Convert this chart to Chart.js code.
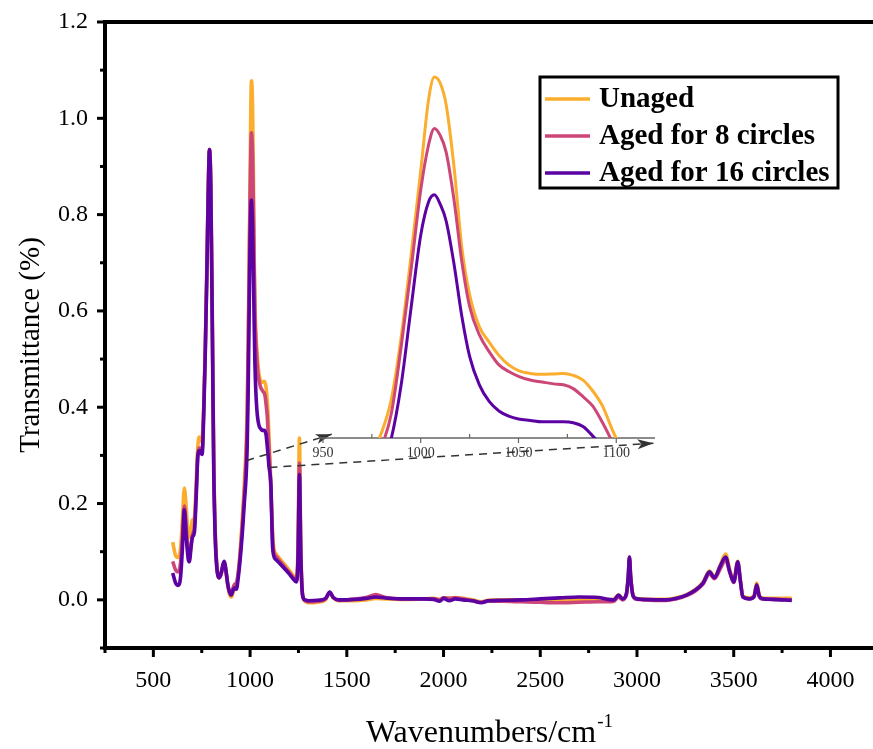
<!DOCTYPE html>
<html>
<head>
<meta charset="utf-8">
<script src="https://cdn.jsdelivr.net/npm/chart.js@4.4.1/dist/chart.umd.min.js"></script>
<style>
  body { margin: 0; background: #fff; }
  #wrap { position: relative; width: 873px; height: 749px; }
  #main { position: absolute; left: 0; top: 0; }
  #inset { position: absolute; left: 290px; top: 40px; }
</style>
</head>
<body>
<div id="wrap">
  <canvas id="main" width="873" height="749"></canvas>
  <canvas id="inset" width="400" height="430"></canvas>
</div>
<script>
// FTIR spectra (wavenumber, cm-1)
const wavenumbers = [
  600, 615, 628, 640, 650, 660, 670, 680, 686, 695, 702, 712, 722, 730, 738, 745, 752, 760, 768, 776,
  783, 790, 797, 805, 812, 820, 830, 840, 850, 860, 867, 875, 885, 895, 903, 912, 919, 929, 940, 950,
  960, 970,
  980, 985, 990, 995, 1000, 1004, 1007, 1010, 1013, 1017, 1021, 1025, 1030, 1035, 1040, 1045, 1050, 1056, 1062, 1068,
  1073, 1078, 1083, 1088, 1093, 1098, 1103, 1108, 1115, 1122,
  1135, 1150, 1175, 1200, 1220, 1240, 1248, 1255, 1262, 1272, 1285, 1300, 1350, 1390, 1412, 1430, 1460, 1500, 1600, 1650,
  1700, 1800, 1900, 1950, 1980, 2000, 2030, 2060, 2100, 2150, 2195, 2230, 2300, 2400, 2500, 2550, 2600, 2700, 2800, 2850,
  2880, 2905, 2925, 2945, 2955, 2961, 2967, 2980, 3000, 3030, 3100, 3150, 3200, 3256, 3300, 3340, 3375, 3400, 3430, 3458,
  3480, 3500, 3521, 3535, 3547, 3580, 3605, 3619, 3632, 3645, 3700, 3800
];
const unaged = [
  .120, .092, .088, .105, .165, .232, .190, .135, .130, .150, .166, .170, .250, .320, .338, .330, .335, .400, .520, .680,
  .840, .935, .860, .580, .300, .140, .065, .048, .055, .072, .078, .060, .030, .010, .006, .015, .022, .028, .060, .110,
  .170, .240,
  .330, .400, .530, .700, .880, 1.030, 1.078, 1.065, 1.020, .890, .720, .620, .552, .520, .492, .472, .460, .454, .452, .453,
  .454, .450, .440, .417, .385, .335, .290, .235, .150, .110,
  .095, .087, .075, .063, .052, .045, .120, .336, .120, .010, -.003, -.006, -.005, .000, .014, .004, -.002, -.002, .000, .003,
  .002, .001, .002, .003, .001, .004, .003, .005, .003, .000, -.004, -.001, .000, .000, .000, .000, .000, .001, .000, -.001,
  .001, .010, .003, .012, .050, .089, .050, .010, .003, .002, .001, .001, .004, .011, .021, .036, .060, .048, .072, .095,
  .062, .040, .080, .040, .008, .004, .008, .035, .010, .004, .003, .003
];
const aged8 = [
  .080, .062, .058, .075, .130, .195, .150, .095, .085, .115, .135, .150, .230, .300, .315, .310, .310, .390, .510, .670,
  .835, .935, .860, .570, .290, .135, .062, .045, .052, .070, .078, .060, .030, .014, .012, .025, .032, .035, .060, .100,
  .155, .220,
  .300, .370, .510, .670, .840, .935, .970, .955, .920, .820, .690, .595, .535, .500, .472, .458, .448, .440, .436, .432,
  .430, .422, .405, .385, .350, .310, .270, .225, .140, .100,
  .090, .082, .070, .058, .048, .040, .100, .284, .100, .008, -.002, -.004, -.003, .002, .015, .005, -.001, .000, .005, .011,
  .005, .002, .002, .002, .000, .004, .003, .004, .002, -.002, -.005, -.003, -.003, -.004, -.005, -.006, -.006, -.005, -.004, -.004,
  -.003, .006, .000, .010, .048, .087, .048, .008, .001, .000, -.001, -.001, .002, .009, .018, .032, .054, .044, .064, .083,
  .056, .036, .074, .036, .006, .002, .006, .027, .007, .002, .001, .000
];
const aged16 = [
  .056, .035, .030, .045, .105, .187, .130, .085, .079, .110, .130, .140, .220, .300, .310, .305, .302, .380, .505, .665,
  .830, .935, .850, .550, .270, .125, .058, .046, .055, .074, .080, .062, .032, .015, .010, .020, .025, .022, .050, .090,
  .139, .200,
  .260, .318, .430, .590, .745, .815, .830, .810, .775, .685, .575, .490, .430, .395, .375, .364, .358, .355, .352, .352,
  .352, .350, .342, .322, .300, .275, .262, .235, .120, .092,
  .083, .077, .066, .055, .045, .037, .090, .260, .095, .008, .000, -.002, -.001, .003, .016, .005, .000, .000, .003, .006,
  .004, .002, .002, .001, -.003, .003, -.002, .002, .000, -.002, -.006, -.002, -.001, .000, .002, .003, .004, .006, .005, .001,
  .000, .010, .002, .012, .050, .089, .050, .008, .002, .001, .000, .000, .003, .010, .020, .034, .058, .046, .070, .089,
  .058, .037, .079, .038, .006, .002, .007, .031, .008, .003, .001, -.001
];

const seriesNames = ['Unaged', 'Aged for 8 circles', 'Aged for 16 circles'];
const seriesColors = ['#FBAD2D', '#CC4778', '#5C02A3'];
const seriesValues = [unaged, aged8, aged16];

const xTicks = [250, 500, 750, 1000, 1250, 1500, 1750, 2000, 2250, 2500, 2750, 3000, 3250, 3500, 3750, 4000];
const yTicks = [-0.1, 0, 0.1, 0.2, 0.3, 0.4, 0.5, 0.6, 0.7, 0.8, 0.9, 1.0, 1.1, 1.2];
const insetTicks = [950, 975, 1000, 1025, 1050, 1075, 1100];
// zoom markers: start points in the main chart, end points on the inset axis
const zoomFrom = [[980, 0.289], [1100, 0.275]];
const zoomTo = [[954.5, 0.326], [1119, 0.307]];

const serif = '"Liberation Serif", "Times New Roman", serif';
Chart.defaults.font.family = serif;
Chart.defaults.color = '#000';

function makeDatasets(width) {
    return seriesNames.map((name, i) => ({
        label: name,
        data: wavenumbers.map((w, j) => ({ x: w, y: seriesValues[i][j] })),
        borderColor: seriesColors[i],
        borderWidth: width,
        pointRadius: 0,
        cubicInterpolationMode: 'monotone',
        order: 3 - i
    }));
}

// ---------- inset (zoom of the 1000 cm-1 band) ----------
const insetAxis = {
    id: 'insetAxis',
    beforeDatasetsDraw(chart) {
        const { ctx, chartArea: a } = chart;
        ctx.save();
        ctx.strokeStyle = '#666';
        ctx.lineWidth = 1.5;
        ctx.beginPath();
        ctx.moveTo(a.left, a.bottom);
        ctx.lineTo(a.right, a.bottom);
        ctx.stroke();
        ctx.restore();
    },
    afterDraw(chart) {
        const { ctx, chartArea: a, scales: { x } } = chart;
        ctx.save();
        ctx.strokeStyle = '#666';
        ctx.lineWidth = 1.2;
        insetTicks.forEach(v => {
            const px = x.getPixelForValue(v);
            const major = v % 50 === 0;
            ctx.beginPath();
            ctx.moveTo(px, a.bottom);
            ctx.lineTo(px, major ? a.bottom + 5 : a.bottom - 4);
            ctx.stroke();
        });
        ctx.restore();
    }
};

const insetChart = new Chart(document.getElementById('inset'), {
    type: 'line',
    data: { datasets: makeDatasets(3) },
    options: {
        responsive: false,
        animation: false,
        devicePixelRatio: 1,
        layout: { padding: { left: 30, right: 35, top: 20, bottom: 0 } },
        plugins: { legend: { display: false }, tooltip: { enabled: false } },
        scales: {
            x: {
                type: 'linear',
                min: 948.5,
                max: 1119.8,
                grid: { display: false, drawTicks: false },
                border: { display: false },
                afterBuildTicks: s => { s.ticks = insetTicks.map(v => ({ value: v })); },
                afterFit: s => { s.height = 32; s.paddingLeft = 0; s.paddingRight = 0; },
                ticks: {
                    autoSkip: false, maxRotation: 0, padding: 7,
                    color: '#333', font: { size: 14 },
                    callback: v => (v % 50 === 0 ? String(v) : '')
                }
            },
            y: { display: false, min: 0.318, max: 1.114 }
        }
    },
    plugins: [insetAxis]
});

// ---------- main chart ----------
function arrow(ctx, x0, y0, x1, y1) {
    ctx.setLineDash([8, 6]);
    ctx.beginPath();
    ctx.moveTo(x0, y0);
    ctx.lineTo(x1, y1);
    ctx.stroke();
    ctx.setLineDash([]);
    const ang = Math.atan2(y1 - y0, x1 - x0);
    const len = 16, half = 5;
    const bx = x1 - len * Math.cos(ang), by = y1 - len * Math.sin(ang);
    ctx.beginPath();
    ctx.moveTo(x1, y1);
    ctx.lineTo(bx + half * Math.sin(ang), by - half * Math.cos(ang));
    ctx.lineTo(bx + 4 * Math.cos(ang), by + 4 * Math.sin(ang));
    ctx.lineTo(bx - half * Math.sin(ang), by + half * Math.cos(ang));
    ctx.closePath();
    ctx.fill();
}

const frame = {
    id: 'frame',
    afterDraw(chart) {
        const { ctx, chartArea: a, scales: { x, y } } = chart;
        ctx.save();
        ctx.strokeStyle = '#000';
        ctx.lineWidth = 4;
        ctx.beginPath();
        ctx.moveTo(a.left - 2, a.top); ctx.lineTo(chart.width, a.top);
        ctx.moveTo(a.left, a.top); ctx.lineTo(a.left, a.bottom + 2);
        ctx.moveTo(a.left - 2, a.bottom); ctx.lineTo(chart.width, a.bottom);
        ctx.stroke();

        // tick marks
        ctx.lineWidth = 3;
        xTicks.forEach(v => {
            const px = x.getPixelForValue(v);
            const len = v % 500 === 0 ? 9 : 5;
            ctx.beginPath();
            ctx.moveTo(px, a.bottom);
            ctx.lineTo(px, a.bottom + len);
            ctx.stroke();
        });
        yTicks.forEach(v => {
            const py = y.getPixelForValue(v);
            const len = Math.round(v * 10) % 2 === 0 ? 8 : 5;
            ctx.beginPath();
            ctx.moveTo(a.left - len, py);
            ctx.lineTo(a.left, py);
            ctx.stroke();
        });

        // axis titles
        ctx.fillStyle = '#000';
        ctx.textBaseline = 'alphabetic';
        ctx.font = `32px ${serif}`;
        const main = 'Wavenumbers/cm';
        const w1 = ctx.measureText(main).width;
        ctx.font = `19px ${serif}`;
        const w2 = ctx.measureText('-1').width;
        const cx = (a.left + a.right) / 2;
        const sx = cx - (w1 + w2) / 2;
        ctx.font = `32px ${serif}`;
        ctx.textAlign = 'left';
        ctx.fillText(main, sx, 742);
        ctx.font = `19px ${serif}`;
        ctx.fillText('-1', sx + w1 + 1, 727);

        ctx.save();
        ctx.translate(31, 345);
        ctx.rotate(-Math.PI / 2);
        ctx.font = `29px ${serif}`;
        ctx.textAlign = 'center';
        ctx.textBaseline = 'middle';
        ctx.fillText('Transmittance (%)', 0, 0);
        ctx.restore();

        // legend box
        ctx.lineWidth = 3;
        ctx.strokeRect(540, 77, 298, 111);
        ctx.font = `bold 29px ${serif}`;
        ctx.textAlign = 'left';
        ctx.textBaseline = 'middle';
        seriesNames.forEach((name, i) => {
            const ly = 99 + i * 37;
            ctx.strokeStyle = seriesColors[i];
            ctx.lineWidth = 3.5;
            ctx.beginPath();
            ctx.moveTo(545, ly);
            ctx.lineTo(590, ly);
            ctx.stroke();
            ctx.fillText(name, 599, ly + 1);
        });

        // zoom arrows to the inset
        const ox = insetChart.canvas.offsetLeft, oy = insetChart.canvas.offsetTop;
        ctx.strokeStyle = '#333';
        ctx.fillStyle = '#333';
        ctx.lineWidth = 1.5;
        zoomFrom.forEach((p, i) => {
            const q = zoomTo[i];
            arrow(ctx,
                x.getPixelForValue(p[0]), y.getPixelForValue(p[1]),
                ox + insetChart.scales.x.getPixelForValue(q[0]),
                oy + insetChart.scales.y.getPixelForValue(q[1]));
        });
        ctx.restore();
    }
};

new Chart(document.getElementById('main'), {
    type: 'line',
    data: { datasets: makeDatasets(3.6) },
    options: {
        responsive: false,
        animation: false,
        devicePixelRatio: 1,
        layout: { padding: { left: 0, right: 0, top: 22, bottom: 0 } },
        plugins: { legend: { display: false }, tooltip: { enabled: false } },
        scales: {
            x: {
                type: 'linear',
                min: 250,
                max: 4220,
                grid: { display: false, drawTicks: false },
                border: { display: false },
                afterBuildTicks: s => { s.ticks = xTicks.map(v => ({ value: v })); },
                afterFit: s => { s.height = 101; s.paddingLeft = 0; s.paddingRight = 0; },
                ticks: {
                    autoSkip: false, maxRotation: 0, padding: 18,
                    font: { size: 24 },
                    callback: v => (v % 500 === 0 ? String(v) : '')
                }
            },
            y: {
                min: -0.1,
                max: 1.2,
                grid: { display: false, drawTicks: false },
                border: { display: false },
                afterBuildTicks: s => { s.ticks = yTicks.map(v => ({ value: v })); },
                afterFit: s => { s.width = 105; s.paddingTop = 0; s.paddingBottom = 0; },
                ticks: {
                    autoSkip: false, padding: 17,
                    font: { size: 24 },
                    callback: v => (Math.round(v * 10) % 2 === 0 && v >= 0 ? v.toFixed(1) : '')
                }
            }
        }
    },
    plugins: [frame]
});
</script>
</body>
</html>
